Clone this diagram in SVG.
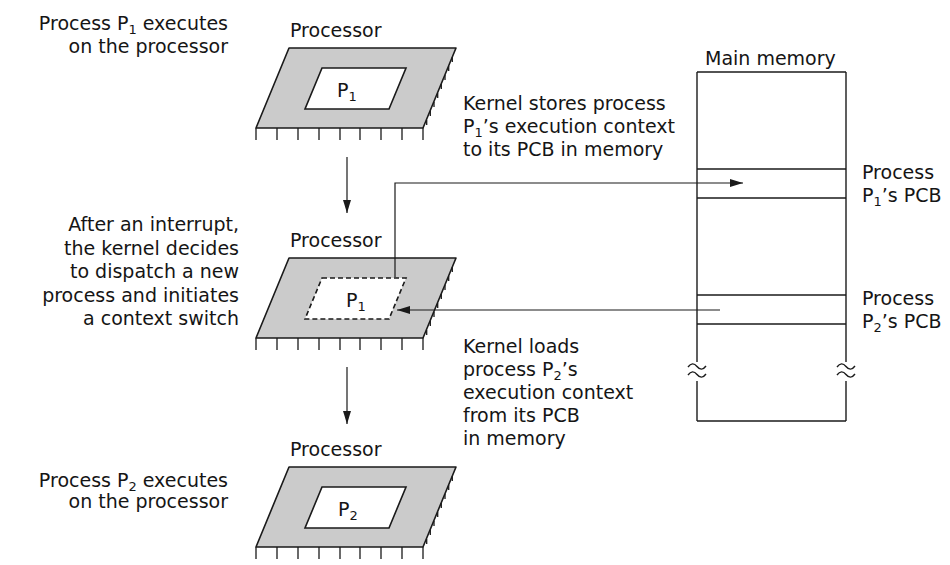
<svg xmlns="http://www.w3.org/2000/svg" xmlns:xlink="http://www.w3.org/1999/xlink" width="950" height="565" viewBox="0 0 950 565">
<style>
text{font-family:"DejaVu Sans","Open Sans",sans-serif;font-size:19px;fill:#151515}
.sub{font-size:13px}
.outer{fill:#cbcbcb;stroke:#1a1a1a;stroke-width:1.6;stroke-linejoin:round}
.inner{fill:#ffffff;stroke:#1a1a1a;stroke-width:1.6}
.dashed{stroke-dasharray:5 3}
.pin{stroke:#1a1a1a;stroke-width:1.3}
.line{fill:none;stroke:#1a1a1a;stroke-width:1.4}
.conn{fill:none;stroke:#1a1a1a;stroke-width:1.2}
</style>
<defs>
<marker id="ah" markerUnits="userSpaceOnUse" markerWidth="13" markerHeight="8" refX="13" refY="4" orient="auto">
<path d="M0,0 L13,4 L0,8 z" fill="#1a1a1a"/>
</marker>
<g id="chip">
<polygon class="outer" points="289,48 456,48 423,128 256,128"/>
<g class="pin">
<line x1="256" y1="128" x2="256" y2="140"/>
<line x1="277" y1="128" x2="277" y2="140"/>
<line x1="298" y1="128" x2="298" y2="140"/>
<line x1="319" y1="128" x2="319" y2="140"/>
<line x1="340" y1="128" x2="340" y2="140"/>
<line x1="360" y1="128" x2="360" y2="140"/>
<line x1="381" y1="128" x2="381" y2="140"/>
<line x1="402" y1="128" x2="402" y2="140"/>
<line x1="423" y1="128" x2="423" y2="140"/>
<line x1="452.3" y1="57" x2="452.3" y2="62"/>
<line x1="448.7" y1="66" x2="448.7" y2="71"/>
<line x1="445" y1="75" x2="445" y2="80"/>
<line x1="441.3" y1="84" x2="441.3" y2="89"/>
<line x1="437.7" y1="93" x2="437.7" y2="98"/>
<line x1="434" y1="102" x2="434" y2="107"/>
<line x1="430.3" y1="111" x2="430.3" y2="116"/>
<line x1="426.7" y1="120" x2="426.7" y2="125"/>
</g>
</g>
</defs>

<g id="processor1">
<use xlink:href="#chip"/>
<polygon class="inner" points="322,68 406,68 389,109 305,109"/>
<text x="290" y="37">Processor</text>
<text x="337" y="97">P<tspan class="sub" dy="4">1</tspan></text>
</g>

<g id="processor2">
<use xlink:href="#chip" transform="translate(0,210)"/>
<polygon class="inner dashed" points="322,278 406,278 389,319 305,319"/>
<text x="290" y="247">Processor</text>
<text x="346" y="307">P<tspan class="sub" dy="4">1</tspan></text>
</g>

<g id="processor3">
<use xlink:href="#chip" transform="translate(0,419)"/>
<polygon class="inner" points="322,487 406,487 389,528 305,528"/>
<text x="290" y="456">Processor</text>
<text x="338" y="516">P<tspan class="sub" dy="4">2</tspan></text>
</g>

<g id="memory">
<text x="705" y="65">Main memory</text>
<line class="line" x1="697" y1="72" x2="846" y2="72"/>
<line class="line" x1="697" y1="421" x2="846" y2="421"/>
<line class="line" x1="697" y1="72" x2="697" y2="362"/>
<line class="line" x1="697" y1="381" x2="697" y2="421"/>
<line class="line" x1="846" y1="72" x2="846" y2="362"/>
<line class="line" x1="846" y1="381" x2="846" y2="421"/>
<path class="line" d="M688,367 Q692.5,361 697,366.5 T706,366 M688,375 Q692.5,369 697,374.5 T706,374"/>
<path class="line" d="M837,367 Q841.5,361 846,366.5 T855,366 M837,375 Q841.5,369 846,374.5 T855,374"/>
</g>

<g id="pcb1">
<line class="line" x1="697" y1="169" x2="846" y2="169"/>
<line class="line" x1="697" y1="198" x2="846" y2="198"/>
<text x="862" y="179">Process</text>
<text x="862" y="202">P<tspan class="sub" dy="4">1</tspan><tspan dy="-4">’s PCB</tspan></text>
</g>

<g id="pcb2">
<line class="line" x1="697" y1="295" x2="846" y2="295"/>
<line class="line" x1="697" y1="324" x2="846" y2="324"/>
<text x="862" y="305">Process</text>
<text x="862" y="328">P<tspan class="sub" dy="4">2</tspan><tspan dy="-4">’s PCB</tspan></text>
</g>

<g id="labels">
<text text-anchor="end" x="228" y="30">Process P<tspan class="sub" dy="4">1</tspan><tspan dy="-4"> executes</tspan></text>
<text text-anchor="end" x="228" y="53">on the processor</text>
<text text-anchor="end" x="239" y="231">After an interrupt,</text>
<text text-anchor="end" x="239" y="255">the kernel decides</text>
<text text-anchor="end" x="239" y="278">to dispatch a new</text>
<text text-anchor="end" x="239" y="302">process and initiates</text>
<text text-anchor="end" x="239" y="325">a context switch</text>
<text text-anchor="end" x="228" y="487">Process P<tspan class="sub" dy="4">2</tspan><tspan dy="-4"> executes</tspan></text>
<text text-anchor="end" x="228" y="508">on the processor</text>
<text x="463" y="110">Kernel stores process</text>
<text x="463" y="133">P<tspan class="sub" dy="4">1</tspan><tspan dy="-4">’s execution context</tspan></text>
<text x="463" y="156">to its PCB in memory</text>
<text x="463" y="353">Kernel loads</text>
<text x="463" y="376">process P<tspan class="sub" dy="4">2</tspan><tspan dy="-4">’s</tspan></text>
<text x="463" y="399">execution context</text>
<text x="463" y="422">from its PCB</text>
<text x="463" y="445">in memory</text>
</g>

<g id="connectors">
<line class="conn" x1="347" y1="157" x2="347" y2="213" marker-end="url(#ah)"/>
<line class="conn" x1="347" y1="367" x2="347" y2="424" marker-end="url(#ah)"/>
<polyline class="conn" points="395,277 395,183 743,183" marker-end="url(#ah)"/>
<line class="conn" x1="720" y1="310" x2="397" y2="310" marker-end="url(#ah)"/>
</g>
</svg>
